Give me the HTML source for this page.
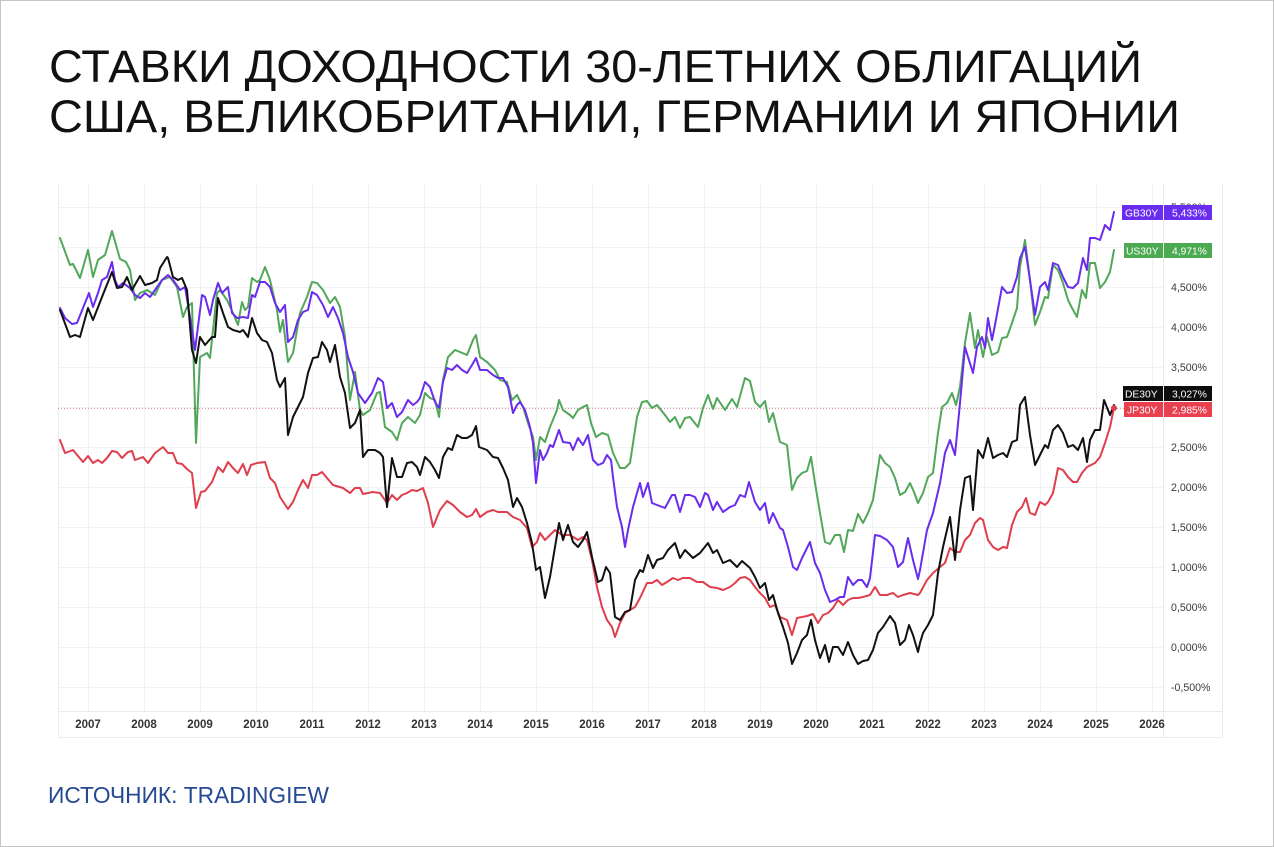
<!DOCTYPE html>
<html><head><meta charset="utf-8"><style>
html,body{margin:0;padding:0;background:#fff;}
svg{display:block;}
</style></head><body>
<svg width="1274" height="847" viewBox="0 0 1274 847" xmlns="http://www.w3.org/2000/svg" font-family="'Liberation Sans', sans-serif">
<rect x="0.5" y="0.5" width="1273" height="846" fill="#fff" stroke="#c4c4c4" stroke-width="1"/>
<text x="49" y="82" font-size="45" fill="#111" textLength="1093" lengthAdjust="spacingAndGlyphs">СТАВКИ ДОХОДНОСТИ 30-ЛЕТНИХ ОБЛИГАЦИЙ</text>
<text x="49" y="132" font-size="45" fill="#111" textLength="1131" lengthAdjust="spacingAndGlyphs">США, ВЕЛИКОБРИТАНИИ, ГЕРМАНИИ И ЯПОНИИ</text>

<g stroke="#f0f2f4" stroke-width="1">
<line x1="88.5" y1="184" x2="88.5" y2="711"/><line x1="144.5" y1="184" x2="144.5" y2="711"/><line x1="200.5" y1="184" x2="200.5" y2="711"/><line x1="256.5" y1="184" x2="256.5" y2="711"/><line x1="312.5" y1="184" x2="312.5" y2="711"/><line x1="368.5" y1="184" x2="368.5" y2="711"/><line x1="424.5" y1="184" x2="424.5" y2="711"/><line x1="480.5" y1="184" x2="480.5" y2="711"/><line x1="536.5" y1="184" x2="536.5" y2="711"/><line x1="592.5" y1="184" x2="592.5" y2="711"/><line x1="648.5" y1="184" x2="648.5" y2="711"/><line x1="704.5" y1="184" x2="704.5" y2="711"/><line x1="760.5" y1="184" x2="760.5" y2="711"/><line x1="816.5" y1="184" x2="816.5" y2="711"/><line x1="872.5" y1="184" x2="872.5" y2="711"/><line x1="928.5" y1="184" x2="928.5" y2="711"/><line x1="984.5" y1="184" x2="984.5" y2="711"/><line x1="1040.5" y1="184" x2="1040.5" y2="711"/><line x1="1096.5" y1="184" x2="1096.5" y2="711"/><line x1="1152.5" y1="184" x2="1152.5" y2="711"/>
<line x1="58" y1="207.5" x2="1163" y2="207.5"/><line x1="58" y1="247.5" x2="1163" y2="247.5"/><line x1="58" y1="287.5" x2="1163" y2="287.5"/><line x1="58" y1="327.5" x2="1163" y2="327.5"/><line x1="58" y1="367.5" x2="1163" y2="367.5"/><line x1="58" y1="407.5" x2="1163" y2="407.5"/><line x1="58" y1="447.5" x2="1163" y2="447.5"/><line x1="58" y1="487.5" x2="1163" y2="487.5"/><line x1="58" y1="527.5" x2="1163" y2="527.5"/><line x1="58" y1="567.5" x2="1163" y2="567.5"/><line x1="58" y1="607.5" x2="1163" y2="607.5"/><line x1="58" y1="647.5" x2="1163" y2="647.5"/><line x1="58" y1="687.5" x2="1163" y2="687.5"/>
</g>
<g stroke="#e8eaed" stroke-width="1">
<line x1="58.5" y1="184" x2="58.5" y2="737"/>
<line x1="1163.5" y1="184" x2="1163.5" y2="737"/>
<line x1="1222.5" y1="184" x2="1222.5" y2="737"/>
<line x1="58" y1="711.5" x2="1222" y2="711.5"/>
<line x1="58" y1="737.5" x2="1222" y2="737.5"/>
</g>

<g font-size="11.5" font-weight="bold" fill="#333" text-anchor="middle">
<text x="88" y="728">2007</text><text x="144" y="728">2008</text><text x="200" y="728">2009</text><text x="256" y="728">2010</text><text x="312" y="728">2011</text><text x="368" y="728">2012</text><text x="424" y="728">2013</text><text x="480" y="728">2014</text><text x="536" y="728">2015</text><text x="592" y="728">2016</text><text x="648" y="728">2017</text><text x="704" y="728">2018</text><text x="760" y="728">2019</text><text x="816" y="728">2020</text><text x="872" y="728">2021</text><text x="928" y="728">2022</text><text x="984" y="728">2023</text><text x="1040" y="728">2024</text><text x="1096" y="728">2025</text><text x="1152" y="728">2026</text>
</g>

<g font-size="10.6" fill="#3a3a3a">
<text x="1171" y="211">5,500%</text>
<text x="1171" y="291">4,500%</text>
<text x="1171" y="331">4,000%</text>
<text x="1171" y="371">3,500%</text>
<text x="1171" y="451">2,500%</text>
<text x="1171" y="491">2,000%</text>
<text x="1171" y="531">1,500%</text>
<text x="1171" y="571">1,000%</text>
<text x="1171" y="611">0,500%</text>
<text x="1171" y="651">0,000%</text>
<text x="1171" y="691">-0,500%</text>
</g>

<line x1="58" y1="408.5" x2="1163" y2="408.5" stroke="#e58c98" stroke-width="1" stroke-dasharray="1,2"/>

<g fill="none" stroke-width="2" stroke-linejoin="round" stroke-linecap="round">
<polyline stroke="#df3f4d" points="60,440 65,453 73,450 83,462 88,456 93,463 98,460 102,463 107,458 112,451 117,452 122,458 128,452 132,451 135,460 143,457 148,463 155,453 163,447 168,453 173,453 177,463 182,464 187,469 192,473 196,508 201,492 205,491 212,482 218,467 223,472 228,462 233,468 238,473 243,464 247,475 251,465 257,463 265,462 270,478 275,483 280,497 288,509 293,502 298,490 303,480 308,488 312,475 317,475 322,472 327,478 333,485 343,488 350,493 355,488 360,488 363,494 373,492 380,493 387,503 392,495 397,500 402,495 407,493 412,490 417,491 423,488 428,503 433,527 440,510 447,501 453,505 460,512 467,517 472,515 476,509 480,517 487,512 493,510 498,512 507,512 513,517 520,520 527,528 532,547 537,542 540,533 545,540 550,535 555,530 562,535 570,535 578,540 583,537 587,540 592,560 597,587 602,607 607,620 612,627 615,637 620,623 625,613 630,610 635,607 640,598 647,583 652,583 657,580 662,585 667,582 673,578 678,580 683,578 690,578 697,582 703,582 710,587 717,588 723,590 730,587 735,583 740,578 745,577 750,580 755,587 760,593 765,598 770,607 775,605 780,617 787,620 792,635 797,618 802,617 807,616 813,614 818,623 823,615 828,613 833,608 838,600 843,605 848,600 853,598 858,598 863,597 870,595 875,587 880,595 887,595 893,593 898,597 903,595 910,593 918,595 920,593 927,580 933,573 940,567 945,563 950,548 955,552 960,552 965,540 970,535 975,523 980,518 983,520 988,540 993,547 998,550 1003,547 1007,548 1012,525 1017,512 1022,507 1026,498 1030,513 1035,515 1040,502 1045,505 1048,502 1053,493 1058,468 1063,470 1068,477 1073,482 1077,482 1082,473 1087,467 1095,463 1100,457 1105,443 1110,427 1114,408"/>
<polyline stroke="#52a75a" points="60,238 70,265 73,264 80,278 88,250 93,277 98,260 105,255 112,231 120,259 126,262 130,270 135,300 140,293 147,290 155,295 162,280 170,277 177,287 183,317 187,307 192,303 196,443 200,357 207,353 210,358 217,293 220,290 227,300 233,313 238,325 242,302 245,310 248,307 252,278 257,282 260,280 265,267 270,280 277,310 280,332 283,320 288,362 293,353 300,313 307,297 312,282 317,283 323,290 330,303 335,297 340,307 345,337 350,400 355,372 360,410 363,415 370,410 377,393 380,392 385,427 392,432 397,440 402,423 408,417 415,423 420,415 425,393 430,398 435,400 439,417 443,380 448,357 455,350 460,352 467,355 473,340 476,335 480,357 487,362 495,370 500,380 507,382 512,400 517,395 523,407 528,423 533,437 536,460 540,437 545,442 550,427 557,410 559,400 563,410 570,415 573,418 578,410 583,407 587,405 591,423 596,437 602,433 608,435 613,453 620,468 625,468 630,463 637,417 642,402 647,401 652,408 657,405 665,415 670,422 675,417 680,428 685,418 690,417 698,427 703,408 708,395 713,409 717,398 725,410 732,399 737,407 745,378 750,381 755,402 760,407 765,401 769,422 773,413 780,442 787,445 792,490 797,478 802,473 807,471 811,457 815,483 820,513 825,542 830,544 835,535 840,535 844,552 848,530 853,531 858,514 863,523 868,513 873,500 880,455 885,463 890,467 895,478 900,495 905,492 910,483 914,492 918,503 923,493 928,477 933,473 938,433 942,407 947,403 952,393 956,405 960,387 965,343 970,313 975,348 978,330 983,357 987,337 992,355 998,352 1002,338 1007,337 1012,323 1017,308 1020,267 1025,240 1030,280 1035,325 1040,312 1045,297 1048,298 1053,265 1058,270 1063,283 1068,300 1072,308 1077,317 1082,290 1086,298 1090,263 1095,263 1100,288 1105,282 1110,272 1114,250"/>
<polyline stroke="#6a2cee" points="60,308 65,318 72,324 77,323 83,308 89,293 93,307 98,293 102,280 107,277 112,262 115,280 118,287 123,283 130,288 135,295 140,298 145,293 150,297 155,290 162,280 168,275 173,280 180,290 185,287 190,317 195,350 202,295 205,297 210,315 213,300 218,283 222,293 228,287 232,313 237,318 243,317 248,318 252,295 255,297 260,282 265,282 270,287 275,303 280,312 285,305 288,342 293,337 298,320 303,312 308,310 312,292 317,295 323,305 328,317 333,307 338,318 343,333 348,357 353,372 358,393 365,403 372,393 378,378 383,382 387,408 392,403 397,417 402,412 408,400 413,405 417,402 420,398 425,382 430,387 435,402 439,408 443,382 447,368 452,370 457,365 462,370 467,373 472,365 476,358 480,370 487,370 493,375 498,378 503,378 508,387 513,413 517,405 520,402 525,410 530,427 533,443 536,483 540,450 543,460 547,453 550,445 553,447 559,430 563,442 570,443 573,450 578,438 583,445 588,435 593,460 598,465 603,463 607,455 611,460 613,477 617,507 622,527 625,547 628,530 633,507 637,493 640,483 643,497 648,483 652,503 657,505 665,508 672,495 675,495 680,512 685,495 690,495 695,497 700,507 705,493 708,495 713,510 717,502 723,512 730,507 735,505 740,495 745,497 749,482 755,502 760,510 765,503 769,523 773,513 780,528 783,530 788,547 793,567 797,570 802,558 810,542 815,563 820,573 825,590 830,602 835,600 840,597 844,597 848,577 853,585 858,580 862,580 867,587 870,578 875,535 880,536 887,540 893,547 898,567 903,562 908,538 913,560 918,579 920,570 927,530 933,513 940,483 945,453 950,440 955,455 960,403 965,347 968,357 973,373 977,347 982,337 985,348 988,318 992,340 995,325 1002,287 1007,293 1012,292 1017,277 1020,258 1025,247 1030,280 1035,315 1040,287 1045,282 1048,290 1053,263 1058,265 1063,277 1068,287 1073,288 1078,283 1083,258 1087,270 1090,238 1095,238 1100,240 1105,225 1110,230 1114,212"/>
<polyline stroke="#111" points="60,310 70,337 75,335 80,337 88,308 93,320 102,297 112,272 117,288 122,287 127,277 132,290 140,276 145,285 152,283 157,280 160,268 167,257 168,258 173,277 178,280 182,278 187,290 192,350 196,363 200,337 205,345 212,337 215,337 218,298 223,313 228,327 233,330 240,332 243,330 248,337 252,318 257,333 262,340 267,342 272,353 277,380 280,387 285,378 288,435 293,417 298,407 303,397 308,373 313,358 318,357 322,342 327,350 330,362 335,345 340,377 345,393 350,428 355,423 360,410 363,457 368,450 375,450 380,453 383,457 387,507 392,458 397,477 402,477 407,463 412,462 417,467 420,475 425,457 430,462 435,470 439,478 443,457 448,448 452,450 457,435 462,438 467,438 472,435 476,426 479,447 487,450 493,457 498,458 503,468 508,480 513,507 517,498 522,507 527,523 532,543 536,570 540,567 545,598 550,577 554,553 559,523 563,540 568,525 573,542 578,547 583,540 587,532 592,557 598,582 602,580 606,567 610,573 615,617 620,620 625,612 630,610 635,580 640,570 643,572 648,555 653,568 657,560 663,558 668,550 675,543 680,558 685,550 693,558 700,553 708,543 713,553 717,550 723,563 730,560 737,567 742,561 750,568 755,577 760,588 765,583 769,600 773,595 778,613 783,627 788,643 792,664 797,653 802,640 807,635 811,620 815,640 820,658 825,645 829,662 833,647 838,647 843,655 848,642 853,655 858,664 863,661 868,660 873,650 878,633 883,627 890,616 895,623 900,645 905,640 909,625 913,635 918,652 920,643 923,633 928,625 933,615 938,573 943,547 950,517 955,560 960,510 965,478 970,476 973,510 978,450 983,458 988,438 993,458 998,455 1003,453 1007,457 1012,442 1017,440 1020,405 1025,397 1030,435 1035,465 1040,455 1045,445 1048,448 1053,430 1058,425 1063,433 1068,447 1073,445 1078,450 1083,438 1087,462 1090,440 1095,430 1100,430 1104,400 1110,415 1114,405"/>
</g>
<circle cx="1114" cy="408" r="3" fill="#df3f4d"/>

<g font-size="10.3" fill="#fff">
<rect x="1122" y="205" width="41" height="15" fill="#6a2cee"/><rect x="1164" y="205" width="48" height="15" fill="#6a2cee"/>
<text x="1125" y="216.5">GB30Y</text><text x="1172" y="216.5">5,433%</text>
<rect x="1124" y="243" width="39" height="15" fill="#4caa52"/><rect x="1164" y="243" width="48" height="15" fill="#4caa52"/>
<text x="1126" y="254.5">US30Y</text><text x="1172" y="254.5">4,971%</text>
<rect x="1123" y="386" width="40" height="15" fill="#0d0d0d"/><rect x="1164" y="386" width="48" height="15" fill="#0d0d0d"/>
<text x="1125" y="397.5">DE30Y</text><text x="1172" y="397.5">3,027%</text>
<rect x="1124" y="402" width="39" height="15" fill="#e8404e"/><rect x="1164" y="402" width="48" height="15" fill="#e8404e"/>
<text x="1127" y="413.5">JP30Y</text><text x="1172" y="413.5">2,985%</text>
</g>

<text x="48" y="803" font-size="23" fill="#254a93" textLength="281" lengthAdjust="spacingAndGlyphs">ИСТОЧНИК: TRADINGIEW</text>
</svg>
</body></html>
